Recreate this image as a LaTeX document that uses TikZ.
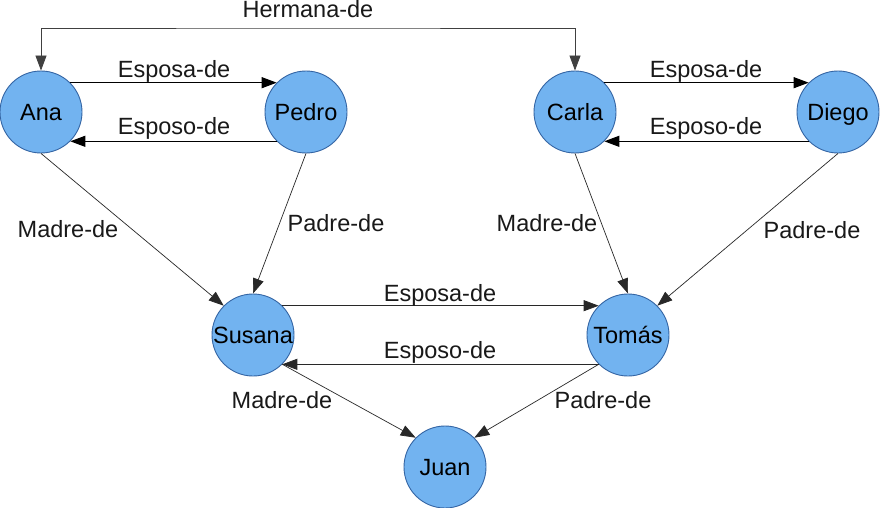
\documentclass[tikz,border=0pt]{standalone}
\usepackage{fontspec}
\setmainfont{Liberation Sans}
\usetikzlibrary{arrows.meta}
\definecolor{nodefill}{RGB}{114,179,240}
\definecolor{nodeline}{RGB}{52,101,164}
\definecolor{thinline}{RGB}{40,40,40}
\tikzset{
  person/.style={circle, draw=nodeline, line width=0.9pt, fill=nodefill, minimum size=82pt, inner sep=0pt,
    font=\fontsize{23.5}{26}\selectfont, text height=16.5pt, text depth=0pt},
  lab/.style={anchor=base, font=\fontsize{23.5}{26}\selectfont, text=black!90, inner sep=0pt},
  rel/.style={-{Triangle[length=15pt,width=11pt]}, line width=1.1pt, black},
  threl/.style={-{Triangle[length=15pt,width=11pt]}, line width=0.7pt, thinline},
}
\begin{document}
\begin{tikzpicture}[x=1pt,y=-1pt]
\useasboundingbox (0,0) rectangle (880,508);
\fill[white] (0,0) rectangle (880,508);

\node[person] (ana) at (41,112) {Ana};
\node[person] (pedro) at (306,112) {Pedro};
\node[person] (carla) at (575,112) {Carla};
\node[person] (diego) at (838,112) {Diego};
\node[person] (susana) at (253,335) {Susana};
\node[person] (tomas) at (628,335) {Tomás};
\node[person] (juan) at (445,467) {Juan};

\coordinate (top) at (308,28);
\draw[{Triangle[length=15pt,width=11pt]}-{Triangle[length=15pt,width=11pt]}, line width=0.8pt, black!75]
  (ana.north) |- (top) -| (carla.north);

\draw[rel] (ana.45) -- (pedro.135);
\draw[rel] (pedro.-135) -- (ana.-45);
\draw[rel] (carla.45) -- (diego.135);
\draw[rel] (diego.-135) -- (carla.-45);

\draw[threl] (ana.south) -- (susana.135);
\draw[threl] (pedro.south) -- (susana.north);
\draw[threl] (carla.south) -- (tomas.north);
\draw[threl] (diego.south) -- (tomas.45);

\draw[threl] (susana.45) -- (tomas.135);
\draw[threl] (tomas.-135) -- (susana.-45);
\draw[threl] (susana.-45) -- (juan.135);
\draw[threl] (tomas.-135) -- (juan.45);

\node[lab] (lherm) at (308,17.5) {Hermana-de};
\node[lab] (l1) at (174,78) {Esposa-de};
\node[lab] (l2) at (174,135) {Esposo-de};
\node[lab] (l3) at (706,78) {Esposa-de};
\node[lab] (l4) at (706,135) {Esposo-de};
\node[lab] (l5) at (68,237) {Madre-de};
\node[lab] (l6) at (336,231) {Padre-de};
\node[lab] (l7) at (547,231) {Madre-de};
\node[lab] (l8) at (812,238) {Padre-de};
\node[lab] (l9) at (440,301) {Esposa-de};
\node[lab] (l10) at (440,358) {Esposo-de};
\node[lab] (l11) at (282,408) {Madre-de};
\node[lab] (l12) at (603,408) {Padre-de};
\end{tikzpicture}
\end{document}
